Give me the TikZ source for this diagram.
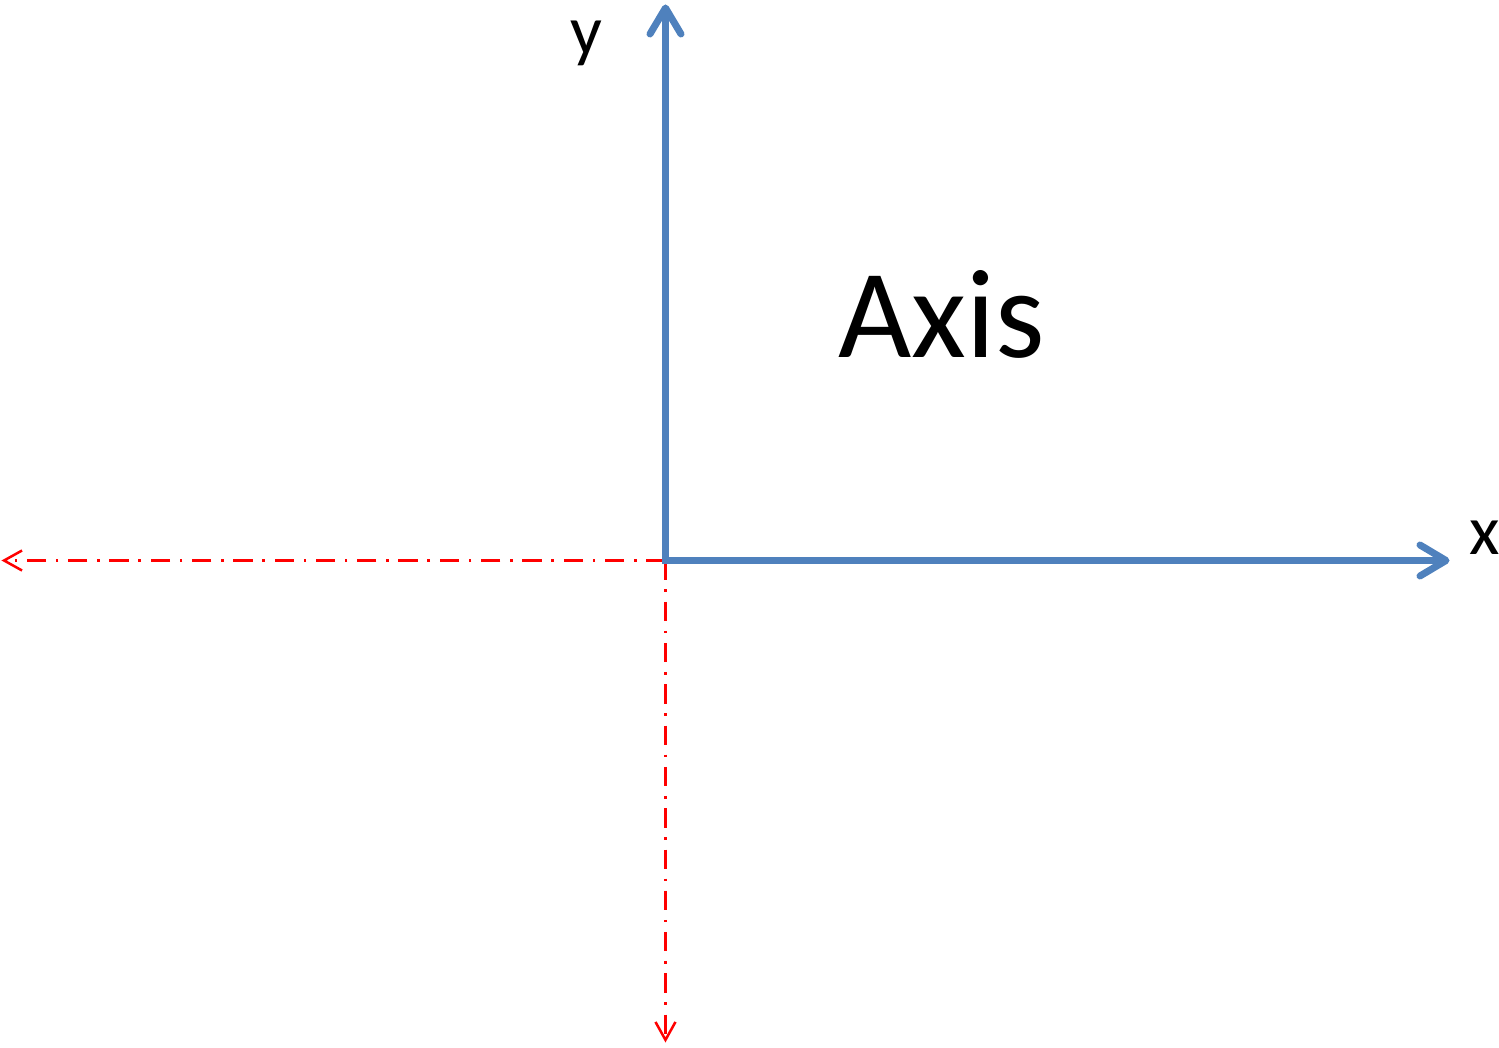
\documentclass[tikz,border=0pt]{standalone}
\usepackage{fontspec}
\setmainfont{Carlito}
\usetikzlibrary{arrows.meta}
\begin{document}
\begin{tikzpicture}[x=0.02cm,y=0.02cm]

\definecolor{axisblue}{RGB}{79,129,189}

\tikzstyle{axisline} = [draw=axisblue,line width=0.14cm,line join=miter,{Straight Barb[length=0.52cm,width=0.62cm,round]}-{Straight Barb[length=0.52cm,width=0.62cm,round]}];
\tikzstyle{guideline} = [draw=red,line width=0.05cm,dash pattern=on 11pt off 5.5pt on 1.5pt off 5.5pt,-{Straight Barb[length=0.36cm,width=0.4cm]}];
\tikzstyle{lnode} = [inner sep=0pt,anchor=base,font=\fontsize{40}{48}\selectfont];

\useasboundingbox (-665.5,-487.5) rectangle (833.5,560.5);

\coordinate (o) at (0,0);
\coordinate (xend) at (784,0);
\coordinate (yend) at (0,556);
\coordinate (xneg) at (-664,0);
\coordinate (yneg) at (0,-482);

\draw [guideline] (o) -- (xneg);
\draw [guideline] (o) -- (yneg);

\draw [axisline] (yend) -- (o) -- (xend);

\node [lnode] (ylabel) at (-79.5,506) {y};
\node [lnode] (xlabel) at (819.5,6) {x};
\node [lnode,font=\fontsize{72}{86}\selectfont] (title) at (276.5,203) {Axis};

\end{tikzpicture}
\end{document}
